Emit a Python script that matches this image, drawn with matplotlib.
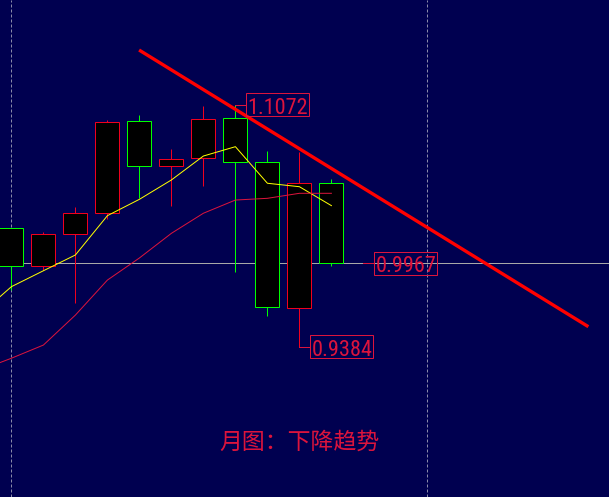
import matplotlib
matplotlib.use('Agg')
import matplotlib.pyplot as plt
from matplotlib.patches import Rectangle
from matplotlib.lines import Line2D
from matplotlib import font_manager

# ---- data (monthly candles) ----
opens  = [1.0211, 0.9946, 1.0169, 1.0316, 1.0957, 1.0643, 1.0699, 1.0978, 1.0671, 0.9653, 1.0525]
closes = [0.9946, 1.0169, 1.0316, 1.0950, 1.0643, 1.0692, 1.0971, 1.0671, 0.9660, 1.0525, 0.9967]
highs  = [1.0211, 1.0185, 1.0359, 1.0966, 1.1001, 1.0764, 1.1065, 1.1072, 1.0750, 1.0743, 1.0555]
lows   = [0.9781, 0.9920, 0.9690, 1.0276, 1.0424, 1.0369, 1.0508, 0.9908, 0.9602, 0.9384, 0.9945]

ma_x   = [-1, 0, 1, 2, 3, 4, 5, 6, 7, 8, 9, 10]
ma5    = [0.9608, 0.9804, 0.9915, 1.0025, 1.0299, 1.0413, 1.0548, 1.0715, 1.0780, 1.0525, 1.0501, 1.0369]
ma10   = [0.9220, 0.9305, 0.9397, 0.9606, 0.9850, 1.0004, 1.0176, 1.0316, 1.0408, 1.0420, 1.0455, 1.0455]

trend_x = [3.99, 18.03]
trend_y = [1.1454, 0.9525]

separators = [0, 13]

labels = [(7, 1.1072, "1.1072"), (11, 0.9967, "0.9967"), (9, 0.9384, "0.9384")]
title = "月图：下降趋势"

# ---- style ----
BG = '#000050'
UP = '#F0001E'
DOWN = '#00FF00'
LBL = '#DC143C'
PX = 0.72  # one pixel in points at dpi 100

# pick a narrow font for price labels if one is installed
lbl_family = ['Liberation Sans', 'DejaVu Sans']
lbl_size = 13.8
lbl_stretch = 'normal'
names = {f.name for f in font_manager.fontManager.ttflist}
if 'Liberation Sans Narrow' in names:
    lbl_family = ['Liberation Sans Narrow', 'DejaVu Sans']
    lbl_size = 16
elif 'Roboto Condensed' in names:
    lbl_family = ['Roboto Condensed', 'DejaVu Sans']
    lbl_size = 16
elif any(f.name == 'DejaVu Sans' and f.stretch == 'condensed' for f in font_manager.fontManager.ttflist):
    lbl_family = ['DejaVu Sans']
    lbl_stretch = 'condensed'
    lbl_size = 14.5

fig = plt.figure(figsize=(6.09, 4.97), dpi=100, facecolor=BG)
ax = fig.add_axes([0, 0, 1, 1])
ax.set_facecolor(BG)
ax.set_xlim(-0.35625, 18.675)
ax.set_ylim(0.83376, 1.18027)
for s in ax.spines.values():
    s.set_visible(False)
ax.set_xticks([])
ax.set_yticks([])

for sx in separators:
    ax.axvline(sx, color='#8A8AA8', lw=PX, ls=(0, (3, 2)), zorder=0.5)

ax.axhline(closes[-1], color='#A8A8A8', lw=PX, zorder=1)

for i, (o, c, h, l) in enumerate(zip(opens, closes, highs, lows)):
    col = UP if c > o else DOWN
    ax.vlines(i, l, h, colors=col, lw=PX, zorder=2)
    ax.add_patch(Rectangle((i - 0.375, min(o, c)), 0.75, abs(c - o),
                           facecolor='black', edgecolor=col, lw=PX, zorder=3))

ax.plot(ma_x, ma5, color='#FFFF00', lw=PX, zorder=4)
ax.plot(ma_x, ma10, color=LBL, lw=PX, zorder=4)

ax.plot(trend_x, trend_y, color='#FF0000', lw=2.4, zorder=5, solid_capstyle='butt')

W, H = fig.bbox.width, fig.bbox.height
for xi, price, txt in labels:
    X, Y = ax.transData.transform((xi, price))
    x0 = X + 10.5
    fig.add_artist(Line2D([X / W, x0 / W], [Y / H, Y / H], color=LBL, lw=PX, zorder=6))
    fig.add_artist(Rectangle((x0 / W, (Y - 11.5) / H), 63 / W, 23 / H, fill=False,
                             ec=LBL, lw=PX, zorder=6))
    fig.text((x0 + 1.7) / W, (Y - 11.5 + 2.3) / H, txt, color=LBL, fontsize=lbl_size,
             family=lbl_family, fontstretch=lbl_stretch, ha='left', va='baseline', zorder=7)

fig.text(299.7 / 609, 1 - 442.5 / 497, title, ha='center', va='center', fontsize=16.5,
         color=LBL, family=['Noto Sans CJK SC', 'DejaVu Sans'])

fig.savefig('out.png', dpi=100, facecolor=BG)
